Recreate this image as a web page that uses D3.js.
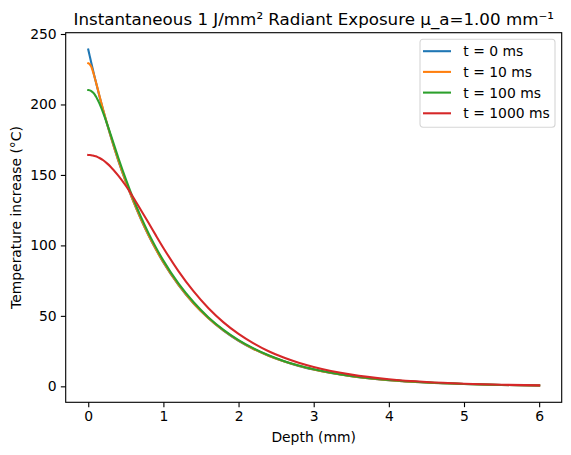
<!DOCTYPE html>
<html>
<head>
<meta charset="utf-8">
<script src="https://cdn.jsdelivr.net/npm/d3@7"></script>
<style>
  body { margin: 0; background: #fff; }
  text { font-family: "DejaVu Sans", sans-serif; fill: #000; }
</style>
</head>
<body>
<div id="chart"></div>
<script>
// depth samples (mm)
var depth = [0, 0.02, 0.04, 0.06, 0.08, 0.1, 0.12, 0.15, 0.2, 0.25, 0.3, 0.4, 0.5, 0.6, 0.7, 0.8, 0.9, 1.0,
  1.2, 1.4, 1.6, 1.8, 2.0, 2.2, 2.4, 2.6, 2.8, 3.0, 3.5, 4.0, 4.5, 5.0, 5.5, 6.0]

// temperature increase (°C) for each time
var t0 = [239.0, 234.3, 229.6, 225.1, 220.6, 216.3, 212.0, 205.7, 195.7, 186.1, 177.1, 160.2, 145.0, 131.2, 118.7, 107.4, 97.2, 87.9,
  72.0, 58.9, 48.3, 39.5, 32.3, 26.5, 21.7, 17.8, 14.5, 11.9, 7.22, 4.38, 2.66, 1.61, 0.98, 0.59]
var t10 = [229.2, 228.5, 226.8, 223.8, 220.2, 216.3, 212.3, 206.0, 195.9, 186.4, 177.3, 160.4, 145.2, 131.4, 118.9, 107.5, 97.3, 88.0,
  72.1, 59.0, 48.4, 39.6, 32.4, 26.5, 21.7, 17.8, 14.6, 11.9, 7.23, 4.38, 2.66, 1.61, 0.98, 0.59]
var t100 = [210.2, 210.0, 209.5, 208.6, 207.5, 205.8, 203.9, 200.6, 193.9, 186.4, 178.4, 162.2, 147.0, 133.0, 120.4, 108.9, 98.6, 89.2,
  73.0, 59.8, 48.9, 40.1, 32.8, 26.9, 22.0, 18.0, 14.7, 12.1, 7.32, 4.44, 2.69, 1.63, 0.99, 0.60]
var t1000 = [164.2, 164.15, 164.0, 163.8, 163.5, 163.2, 162.8, 162.0, 160.4, 158.2, 155.7, 149.5, 142.3, 134.0, 125.1, 116.2, 107.1, 98.2,
  81.8, 67.5, 55.4, 45.4, 37.2, 30.5, 24.9, 20.4, 16.7, 13.7, 8.30, 5.04, 3.05, 1.85, 1.12, 0.68]

var seriesLabels = ['t = 0 ms', 't = 10 ms', 't = 100 ms', 't = 1000 ms']
var seriesValues = [t0, t10, t100, t1000]
var colors = ['#1f77b4', '#ff7f0e', '#2ca02c', '#d62728']

var xTicks = [0, 1, 2, 3, 4, 5, 6]
var yTicks = [0, 50, 100, 150, 200, 250]

var titleText = 'Instantaneous 1 J/mm² Radiant Exposure μ_a=1.00 mm⁻¹'
var xLabel = 'Depth (mm)'
var yLabel = 'Temperature increase (°C)'

// layout
var margin = { top: 32.7, left: 65.7 }
var width = 496, height = 369.6

var svg = d3.select('#chart').append('svg')
  .attr('width', 571)
  .attr('height', 455)

var g = svg.append('g')
  .attr('transform', 'translate(' + margin.left + ',' + margin.top + ')')

// scales with matplotlib-like 5% margins
var xmin = d3.min(depth), xmax = d3.max(depth)
var xpad = (xmax - xmin) * 0.05
var xScale = d3.scaleLinear().domain([xmin - xpad, xmax + xpad]).range([0, width])

var allY = d3.merge(seriesValues)
var ymin = d3.min(allY), ymax = d3.max(allY)
var ypad = (ymax - ymin) * 0.05
var yScale = d3.scaleLinear().domain([ymin - ypad, ymax + ypad]).range([height, 0])

// lines
var line = d3.line()
  .x(function (d, i) { return xScale(depth[i]) })
  .y(function (d) { return yScale(d) })
  .curve(d3.curveMonotoneX)

g.append('g').selectAll('path')
  .data(seriesValues)
  .enter().append('path')
  .attr('d', line)
  .attr('fill', 'none')
  .attr('stroke', function (d, i) { return colors[i] })
  .attr('stroke-width', 2.08)
  .attr('stroke-linecap', 'square')

// axes
var xAxis = d3.axisBottom(xScale).tickValues(xTicks).tickFormat(d3.format('d')).tickSize(4.86).tickPadding(4.2)
var yAxis = d3.axisLeft(yScale).tickValues(yTicks).tickFormat(d3.format('d')).tickSize(4.86).tickPadding(4.2)

var gx = g.append('g')
  .attr('transform', 'translate(0,' + height + ')')
  .call(xAxis)
var gy = g.append('g').call(yAxis)

;[gx, gy].forEach(function (a) {
  a.select('.domain').remove()
  a.selectAll('.tick line').attr('stroke', '#000').attr('stroke-width', 1.11)
  a.selectAll('.tick text')
    .style('font-family', '"DejaVu Sans", sans-serif')
    .style('font-size', '13.9px')
    .attr('fill', '#000')
})

// spines
g.append('rect')
  .attr('width', width)
  .attr('height', height)
  .attr('fill', 'none')
  .attr('stroke', '#000')
  .attr('stroke-width', 1.11)

// labels
svg.append('text')
  .attr('x', margin.left + width / 2)
  .attr('y', 25)
  .attr('text-anchor', 'middle')
  .style('font-size', '16.7px')
  .text(titleText)

svg.append('text')
  .attr('x', margin.left + width / 2)
  .attr('y', 442)
  .attr('text-anchor', 'middle')
  .style('font-size', '13.9px')
  .text(xLabel)

svg.append('text')
  .attr('transform', 'translate(21,' + (margin.top + height / 2) + ') rotate(-90)')
  .attr('text-anchor', 'middle')
  .style('font-size', '13.9px')
  .text(yLabel)

// legend
var legend = svg.append('g').attr('transform', 'translate(420,39.3)')
legend.append('rect')
  .attr('width', 135)
  .attr('height', 88)
  .attr('rx', 3)
  .attr('fill', '#fff')
  .attr('fill-opacity', 0.8)
  .attr('stroke', '#d6d6d6')
  .attr('stroke-width', 1.11)

var items = legend.selectAll('.item')
  .data(seriesLabels)
  .enter().append('g')
  .attr('transform', function (d, i) { return 'translate(0,' + (11.9 + i * 20.7) + ')' })

items.append('line')
  .attr('x1', 3).attr('x2', 31)
  .attr('stroke', function (d, i) { return colors[i] })
  .attr('stroke-width', 2.08)

items.append('text')
  .attr('x', 43.3)
  .attr('y', 5)
  .style('font-size', '13.9px')
  .text(function (d) { return d })
</script>
</body>
</html>
